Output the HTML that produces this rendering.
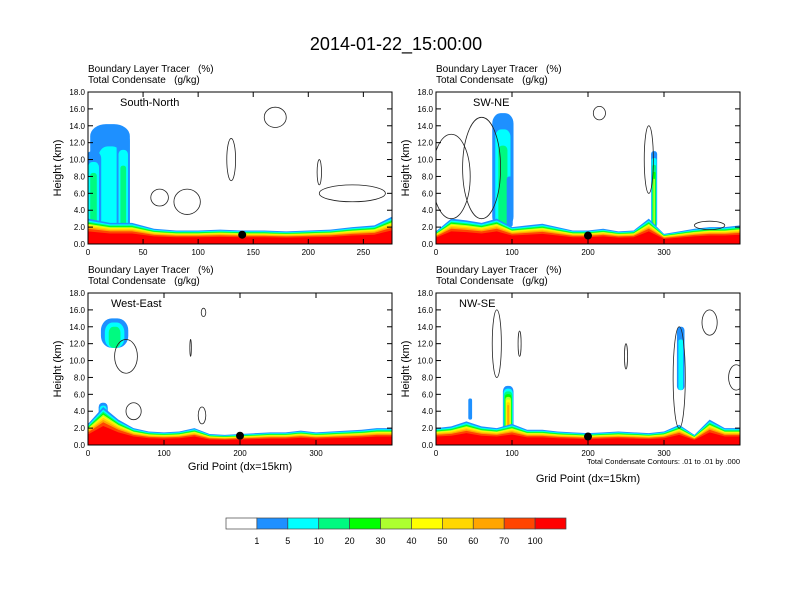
<!DOCTYPE html>
<html><head><meta charset="utf-8">
<style>
body{margin:0;background:#fff;}
svg{display:block;font-family:"Liberation Sans",Arial,sans-serif;}
</style></head>
<body>
<svg id="chart" width="792" height="612" viewBox="0 0 792 612">
<text x="396" y="50" text-anchor="middle" font-size="18">2014-01-22_15:00:00</text>
<g id="panels"></g>
<g id="colorbar"></g>
</svg>
<script>
const colors=["#ffffff","#1e90ff","#00ffff","#00fa80","#00ff00","#adff2f","#ffff00","#ffd700","#ffa500","#ff4500","#ff0000"];
const cbLabels=["1","5","10","20","30","40","50","60","70","100"];
const yTicks=[0,2,4,6,8,10,12,14,16,18];
const panelTitles=["South-North","SW-NE","West-East","NW-SE"];
const panelXMax=[276,400,400,400];
const xTicksTL=[0,50,100,150,200,250];
const xTicksOther=[0,100,200,300];
const blStep=20;
const blTL=[3.0,2.5,2.5,1.8,1.6,1.6,1.7,1.6,1.6,1.5,1.6,1.7,2.0,2.2,3.5];
const blTR=[1.5,3.0,2.8,2.5,3.0,2.0,2.2,2.4,2.0,1.6,1.6,1.8,1.5,1.6,3.0,1.2,1.5,1.8,2.0,2.0,2.2];
const blBL=[2.5,4.5,3.0,2.0,1.6,1.5,1.6,2.0,1.3,1.2,1.3,1.4,1.5,1.5,1.7,1.5,1.6,1.7,1.8,2.0,2.0];
const blBR=[2.0,2.2,2.8,2.2,2.0,2.5,1.8,1.8,1.6,1.5,1.4,1.5,1.6,1.5,1.4,1.6,2.4,1.2,3.0,2.0,2.0];
const plumeX=[[20,5,32],[88,97,287],[35,20],[95,322,45]];
const plumeW=[[36,14,12],[28,8,8],[36,12],[14,10,5]];
const plumeBase=[[1,2,0],[2,2,2],[11.5,2],[1.5,6.5,3]];
const plumeTop=[[14.2,11,13],[15.5,8,11],[15,5],[7,14,5.5]];
const plumeLvl=[[2,3,3],[3,1,5],[3,4],[8,2,1]];
const contX=[[130,170,65,90,240,210],[20,60,280,215,360],[50,60,150,152,135],[80,320,360,110,250,395]];
const contY=[[10,15,5.5,5,6,8.5],[8,9,10,15.5,2.2],[10.5,4,3.5,15.7,11.5],[12,8,14.5,12,10.5,8]];
const contRX=[[4,10,8,12,30,2],[25,25,6,8,20],[15,10,5,3,1],[6,8,10,2,2,10]];
const contRY=[[2.5,1.2,1,1.5,1,1.5],[5,6,4,0.8,0.5],[2,1,1,0.5,1],[4,6,1.5,1.5,1.5,1.5]];
const dotX=[140,200,200,200];
const dotY=[1.1,1.0,1.1,1.0];
const NS="http://www.w3.org/2000/svg";
function mk(t,a,p){const e=document.createElementNS(NS,t);for(const k in a)e.setAttribute(k,a[k]);p.appendChild(e);return e;}
const root=document.getElementById('panels');
const geo=[[88,92],[436,92],[88,293],[436,293]];
const W=304,H=152;
const bls=[blTL,blTR,blBL,blBR];
const fracs=[1,0.93,0.88,0.84,0.8,0.76,0.72,0.66,0.6,0.5];
for(let p=0;p<4;p++){
  const [x0,y0]=geo[p];
  const g=mk('g',{},root);
  
  
  const sx=v=>x0+v/panelXMax[p]*W, sy=v=>y0+H-v/18*H;
  const h1=mk('text',{x:x0,y:y0-20,'font-size':10},g);h1.textContent='Boundary Layer Tracer   (%)';
  
  h1.style.whiteSpace='pre';
  const h2=mk('text',{x:x0,y:y0-9,'font-size':10},g);h2.textContent='Total Condensate   (g/kg)';
  h2.style.whiteSpace='pre';
  const clip=mk('clipPath',{id:'c'+p},g);mk('rect',{x:x0,y:y0,width:W,height:H},clip);
  const fg=mk('g',{'clip-path':'url(#c'+p+')'},g);
  // plumes
  plumeX[p].forEach((cx,k)=>{
    const lv=plumeLvl[p][k];
    for(let l=1;l<=lv;l++){
      const s=1-(l-1)/(lv+0.5);
      const w=plumeW[p][k]*s, b=plumeBase[p][k], t=plumeTop[p][k];
      const top=t-(t-b)*(1-s)*0.5;
      const rw=(sx(w)-sx(0));
      const r=mk('rect',{x:sx(cx)-rw/2,y:sy(top),width:rw,height:sy(b)-sy(top),rx:rw/2.5,ry:Math.min(rw/2,12),fill:colors[l]},fg);
      
      
    }
  });
  // boundary-layer bands
  const bl=bls[p];
  fracs.forEach((f,i)=>{
    let pts=[];
    bl.forEach((d,j)=>pts.push(sx(j*blStep)+','+sy(d*f)));
    pts.push(sx((bl.length-1)*blStep)+','+sy(0),sx(0)+','+sy(0));
    const pg=mk('polygon',{points:pts.join(' '),fill:colors[i+1]},fg);
    
    
  });
  // contours
  contX[p].forEach((cx,k)=>{
    const e=mk('ellipse',{cx:sx(cx),cy:sy(contY[p][k]),rx:sx(contRX[p][k])-sx(0),ry:sy(0)-sy(contRY[p][k]),fill:'none',stroke:'#222','stroke-width':0.8},fg);
    
    
  });
  const d=mk('circle',{cx:sx(dotX[p]),cy:sy(dotY[p]),r:4,fill:'#000'},fg);
  
  const fr=mk('rect',{x:x0,y:y0,width:W,height:H,fill:'none',stroke:'#000','stroke-width':1},g);
  
  yTicks.forEach(v=>{
    mk('line',{x1:x0,x2:x0+5,y1:sy(v),y2:sy(v),stroke:'#000'},g);
    mk('line',{x1:x0+W,x2:x0+W-5,y1:sy(v),y2:sy(v),stroke:'#000'},g);
    const t=mk('text',{x:x0-3,y:sy(v)+3,'font-size':8,'text-anchor':'end'},g);t.textContent=v.toFixed(1);
    
  });
  (p==0?xTicksTL:xTicksOther).forEach(v=>{
    mk('line',{x1:sx(v),x2:sx(v),y1:y0+H,y2:y0+H-5,stroke:'#000'},g);
    mk('line',{x1:sx(v),x2:sx(v),y1:y0,y2:y0+5,stroke:'#000'},g);
    const t=mk('text',{x:sx(v),y:y0+H+11,'font-size':8,'text-anchor':'middle'},g);t.textContent=v;
    
  });
  const yl=mk('text',{transform:`translate(${x0-27},${y0+H/2}) rotate(-90)`,'font-size':11,'text-anchor':'middle'},g);yl.textContent='Height (km)';
  
  const pt=mk('text',{x:x0+(p==0?32:p==1?37:23),y:y0+14,'font-size':11},g);pt.textContent=panelTitles[p];
  
  if(p>=2){
    const xl=mk('text',{x:x0+W/2,y:p==2?y0+H+25:y0+H+37,'font-size':11,'text-anchor':'middle'},g);xl.textContent='Grid Point (dx=15km)';
    
  }
  if(p==3){
    const n=mk('text',{x:x0+W,y:y0+H+19,'font-size':7.5,'text-anchor':'end'},g);n.textContent='Total Condensate Contours: .01 to .01 by .000';
    
  }
}
const cb=document.getElementById('colorbar');
const cbx=226,cbw=340/colors.length;
colors.forEach((c,i)=>{
  const r=mk('rect',{x:cbx+i*cbw,y:518,width:cbw,height:11,fill:c,stroke:'#444','stroke-width':0.7},cb);
  
});
cbLabels.forEach((l,i)=>{
  const t=mk('text',{x:cbx+(i+1)*cbw,y:544,'font-size':9,'text-anchor':'middle'},cb);t.textContent=l;
  
});
</script>
</body></html>
